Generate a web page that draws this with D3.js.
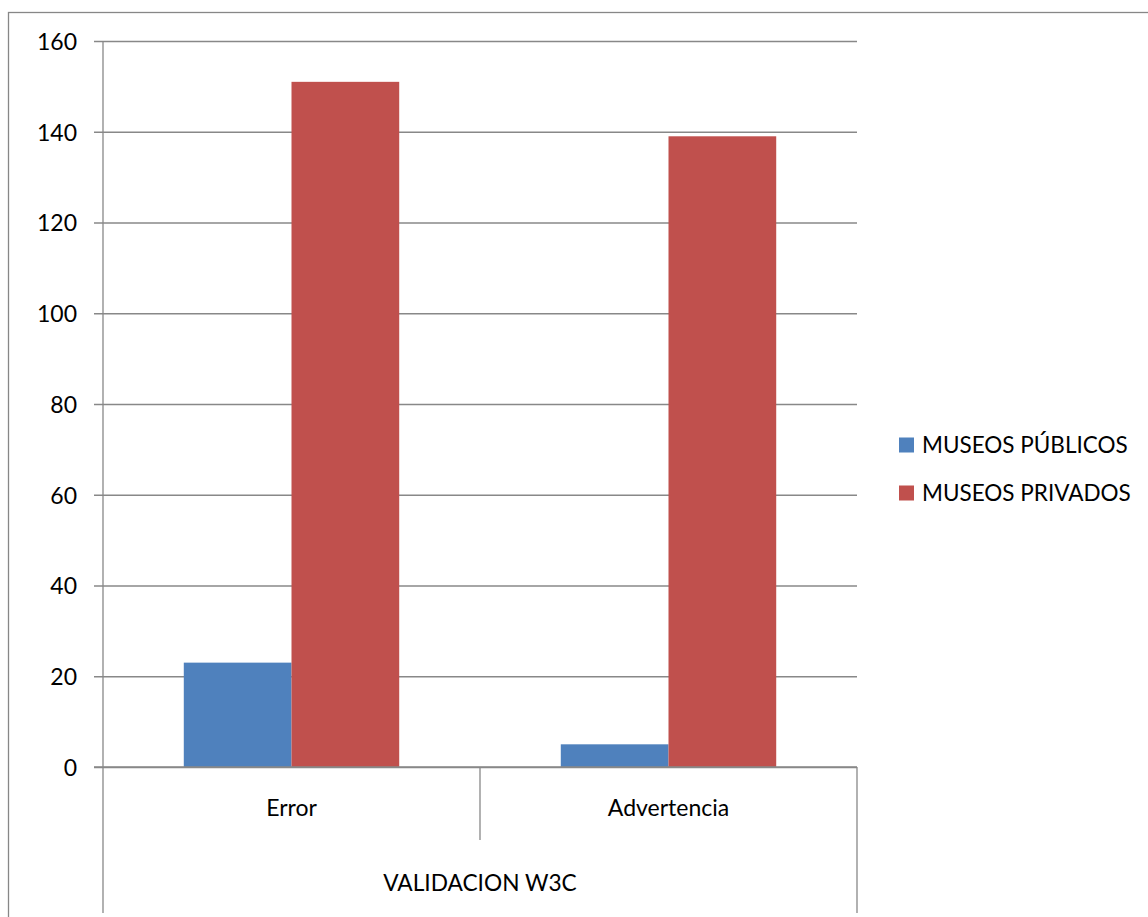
<!DOCTYPE html>
<html>
<head>
<meta charset="utf-8">
<script src="https://cdn.jsdelivr.net/npm/d3@7"></script>
<style>
  html, body { margin: 0; padding: 0; background: #ffffff; }
  svg { display: block; }
  text { font-family: Lato, "Noto Sans", sans-serif; fill: #000; }
</style>
</head>
<body>
<div id="chart"></div>
<script>
// ---- data ----
const categories = ["Error", "Advertencia"];
const groupLabel = "VALIDACION W3C";
const seriesNames = ["MUSEOS PÚBLICOS", "MUSEOS PRIVADOS"];
const publicos = [23, 5];
const privados = [151, 139];
const yTicks = [0, 20, 40, 60, 80, 100, 120, 140, 160];
const seriesColors = ["#4F81BD", "#C0504D"];

const W = 1148, H = 917;
const plotLeft = 103, plotRight = 857, plotTop = 41, plotBottom = 767;
const gridColor = "#888888";

const svg = d3.select("#chart").append("svg")
  .attr("width", W).attr("height", H);

svg.append("rect").attr("width", W).attr("height", H).attr("fill", "#fff");

// outer chart border
svg.append("rect")
  .attr("x", 8.5).attr("y", 12.5)
  .attr("width", W + 20).attr("height", H + 20)
  .attr("fill", "none").attr("stroke", "#878787").attr("stroke-width", 1.3);

const y = d3.scaleLinear().domain([0, 160]).range([plotBottom, plotTop]);
const x0 = d3.scaleBand().domain(categories).range([plotLeft, plotRight]).padding(0);
const x1 = d3.scaleBand().domain(seriesNames).range([0, x0.bandwidth()])
  .paddingInner(0).paddingOuter(0.75);

// gridlines + left ticks
const yAxis = d3.axisLeft(y).tickValues(yTicks).tickSize(-(plotRight - plotLeft)).tickSizeOuter(0).tickPadding(26);
const gy = svg.append("g").attr("transform", `translate(${plotLeft},0)`).call(yAxis);
gy.select(".domain").remove();
gy.selectAll(".tick line").attr("x1", -9).attr("stroke", gridColor).attr("stroke-width", 1.3);
gy.selectAll(".tick text").style("font-family", "Lato, 'Noto Sans', sans-serif")
  .attr("font-size", 23).attr("fill", "#000").attr("dy", "0.36em");

// bars
const rows = categories.map((c, i) => ({ cat: c, vals: [publicos[i], privados[i]] }));
const groups = svg.append("g").selectAll("g").data(rows).join("g")
  .attr("transform", d => `translate(${x0(d.cat)},0)`);
groups.selectAll("rect").data(d => d.vals.map((v, j) => ({ name: seriesNames[j], v, j })))
  .join("rect")
  .attr("x", d => x1(d.name))
  .attr("y", d => y(d.v))
  .attr("width", x1.bandwidth())
  .attr("height", d => y(0) - y(d.v))
  .attr("fill", d => seriesColors[d.j]);

// y axis line
svg.append("line").attr("x1", plotLeft).attr("x2", plotLeft).attr("y1", plotTop).attr("y2", plotBottom)
  .attr("stroke", gridColor).attr("stroke-width", 1.3);
// x axis line
svg.append("line").attr("x1", plotLeft - 9).attr("x2", plotRight).attr("y1", plotBottom).attr("y2", plotBottom)
  .attr("stroke", gridColor).attr("stroke-width", 1.5);

// category dividers
const divs = [
  { x: x0.range()[0], y2: 913 },
  { x: x0(categories[1]), y2: 840 },
  { x: x0.range()[1], y2: 913 }
];
svg.append("g").selectAll("line").data(divs).join("line")
  .attr("x1", d => d.x).attr("x2", d => d.x)
  .attr("y1", plotBottom).attr("y2", d => d.y2)
  .attr("stroke", gridColor).attr("stroke-width", 1.3);

// category labels
svg.append("g").selectAll("text").data(categories).join("text")
  .attr("x", d => x0(d) + x0.bandwidth() / 2)
  .attr("y", 808).attr("dy", "0.36em")
  .attr("text-anchor", "middle").attr("font-size", 23)
  .text(d => d);

svg.append("text")
  .attr("x", (plotLeft + plotRight) / 2).attr("y", 883).attr("dy", "0.36em")
  .attr("text-anchor", "middle").attr("font-size", 22.7)
  .text(groupLabel);

// legend
const legendY = [445, 493];
const lg = svg.append("g").selectAll("g").data(seriesNames).join("g")
  .attr("transform", (d, i) => `translate(899,${legendY[i]})`);
lg.append("rect").attr("x", 0).attr("y", -7.5).attr("width", 15).attr("height", 15)
  .attr("fill", (d, i) => seriesColors[i]);
lg.append("text").attr("x", 23).attr("y", 0).attr("dy", "0.36em")
  .attr("font-size", 22.5).text(d => d);
</script>
</body>
</html>
